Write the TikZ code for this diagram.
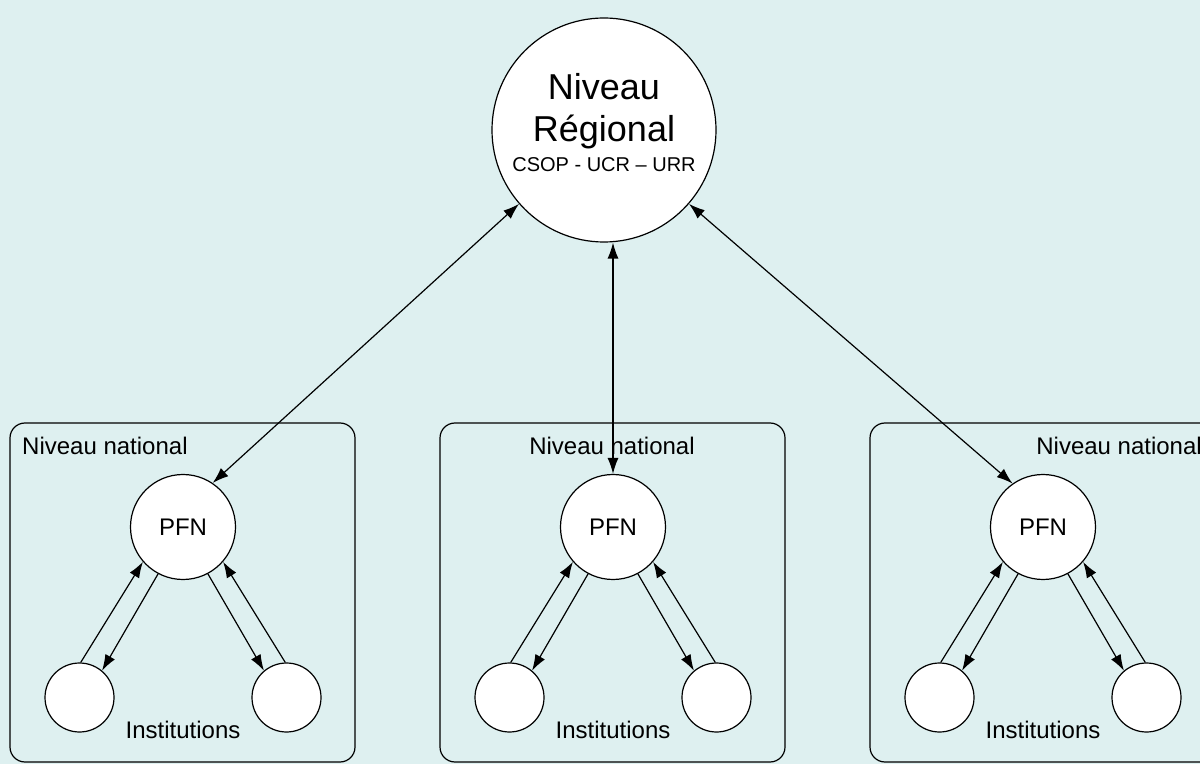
\documentclass[tikz,border=0pt]{standalone}
\usepackage{fontspec}
\setmainfont{Liberation Sans}
\usetikzlibrary{arrows.meta}
\definecolor{fond}{RGB}{222,240,240}

\tikzset{
  niveau/.style={draw, black, line width=1.2pt, rounded corners=15pt},
  rond/.style={circle, draw, fill=white, line width=1.2pt, inner sep=0pt},
  fleche/.style={line width=1.2pt, >={Latex[length=16pt,width=11pt]}},
}

\begin{document}
\begin{tikzpicture}[x=1pt,y=1pt]
     \clip (0,0) rectangle (1200,764);
     \fill[fond] (0,0) rectangle (1200,764);

     % niveau regional
     \node[rond, minimum size=224pt] (reg) at (604,634) {};
     \node[anchor=base, font=\fontsize{36}{40}\selectfont] (regA) at (604,664) {Niveau};
     \node[anchor=base, font=\fontsize{36}{40}\selectfont] (regB) at (604,622) {Régional};
     \node[anchor=base, font=\fontsize{20}{24}\selectfont] (regC) at (604,592) {CSOP - UCR – URR};

     % les trois niveaux nationaux
     \draw[niveau] (10,2) rectangle (355,341);
     \draw[niveau] (440,2) rectangle (785,341);
     \draw[niveau] (870,2) rectangle (1215,341);
     \node[anchor=base west, font=\fontsize{24}{28}\selectfont, inner sep=0pt] (nat1) at (22,309) {Niveau national};
     \node[anchor=base, font=\fontsize{24}{28}\selectfont, inner sep=0pt] (nat2) at (612,309) {Niveau national};
     \node[anchor=base east, font=\fontsize{24}{28}\selectfont, inner sep=0pt] (nat3) at (1202,309) {Niveau national};

     \node[rond, minimum size=105pt, font=\fontsize{24}{28}\selectfont] (pfn1) at (183,237) {PFN};
     \node[rond, minimum size=105pt, font=\fontsize{24}{28}\selectfont] (pfn2) at (613,237) {PFN};
     \node[rond, minimum size=105pt, font=\fontsize{24}{28}\selectfont] (pfn3) at (1043,237) {PFN};

     \node[rond, minimum size=69pt] (inst1a) at (79.5,66.5) {};
     \node[rond, minimum size=69pt] (inst1b) at (286.5,66.5) {};
     \node[rond, minimum size=69pt] (inst2a) at (509.5,66.5) {};
     \node[rond, minimum size=69pt] (inst2b) at (716.5,66.5) {};
     \node[rond, minimum size=69pt] (inst3a) at (939.5,66.5) {};
     \node[rond, minimum size=69pt] (inst3b) at (1146.5,66.5) {};
     \node[anchor=base, font=\fontsize{24}{28}\selectfont, inner sep=0pt] (ins1) at (183,26) {Institutions};
     \node[anchor=base, font=\fontsize{24}{28}\selectfont, inner sep=0pt] (ins2) at (613,26) {Institutions};
     \node[anchor=base, font=\fontsize{24}{28}\selectfont, inner sep=0pt] (ins3) at (1043,26) {Institutions};

     % echanges PFN - institutions
     \draw[fleche,->] (inst1a.88) -- (pfn1.221);
     \draw[fleche,->] (pfn1.242) -- (inst1a.50);
     \draw[fleche,->] (pfn1.298) -- (inst1b.130);
     \draw[fleche,->] (inst1b.92) -- (pfn1.319);
     \draw[fleche,->] (inst2a.88) -- (pfn2.221);
     \draw[fleche,->] (pfn2.242) -- (inst2a.50);
     \draw[fleche,->] (pfn2.298) -- (inst2b.130);
     \draw[fleche,->] (inst2b.92) -- (pfn2.319);
     \draw[fleche,->] (inst3a.88) -- (pfn3.221);
     \draw[fleche,->] (pfn3.242) -- (inst3a.50);
     \draw[fleche,->] (pfn3.298) -- (inst3b.130);
     \draw[fleche,->] (inst3b.92) -- (pfn3.319);

     % liens avec le niveau regional
     \draw[fleche,<->] (reg.221) -- (pfn1.56);
     \draw[fleche,<->] (reg.south -| pfn2.north) -- (pfn2.north);
     \draw[fleche,<->] (reg.319) -- (pfn3.125);
\end{tikzpicture}
\end{document}
